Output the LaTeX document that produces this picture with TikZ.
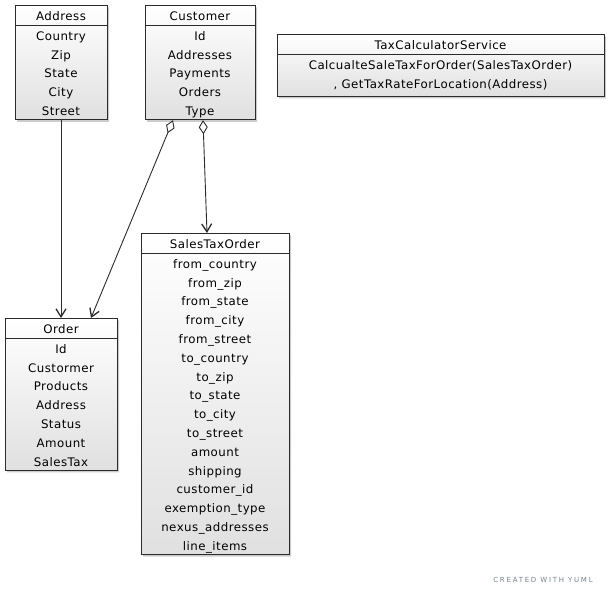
\documentclass[tikz,border=0pt]{standalone}
\usepackage{fontspec}
\setmainfont{DejaVu Sans}[LetterSpace=4]
\newfontfamily\stampfont{DejaVu Sans}[LetterSpace=25]
\usetikzlibrary{arrows.meta,positioning,shapes.multipart,shadows}
\definecolor{ink}{HTML}{2B2B2B}
\definecolor{shade}{HTML}{E0E0E0}
\definecolor{stamp}{HTML}{74828F}
\newcommand\firstrow{\rule{0pt}{14.8pt}}
\newcommand\lastrow{\rule[-4pt]{0pt}{4pt}}

\begin{document}
\begin{tikzpicture}[
  x=1pt,y=-1pt,
  every node/.style={font=\fontsize{11.8}{18.8}\selectfont},
  class/.style={rectangle split,rectangle split parts=2,draw=ink,line width=0.8pt,
    top color=white,bottom color=shade,inner xsep=4pt,inner ysep=0pt,
    align=center,anchor=north,
    drop shadow={shadow xshift=2pt,shadow yshift=-2pt,fill=black!40}},
  barb/.style={-{Straight Barb[length=8pt,width=10pt,line width=1.3pt]}},
  assoc/.style={ink,line width=0.9pt,barb},
  aggr/.style={ink,line width=0.9pt,
    {Diamond[open,length=14pt,width=9pt,line width=0.9pt]}-{Straight Barb[length=8pt,width=10pt,line width=1.3pt]}}
]
\useasboundingbox (0,0) rectangle (613,595);

% classes
\node[class,minimum width=92pt] (addr) at (61,5)
  {\firstrow Address\lastrow\nodepart{second}\firstrow Country\\Zip\\State\\City\\Street\lastrow};
\node[class,minimum width=110pt] (cust) at (200,5)
  {\firstrow Customer\lastrow\nodepart{second}\firstrow Id\\Addresses\\Payments\\Orders\\Type\lastrow};
\node[class,minimum width=327pt] (calc) at (440.5,34)
  {\firstrow TaxCalculatorService\lastrow\nodepart{second}\firstrow CalcualteSaleTaxForOrder(SalesTaxOrder)\\, GetTaxRateForLocation(Address)\rule[-8pt]{0pt}{8pt}};
\node[class,minimum width=148pt] (sto) at (215,233)
  {\firstrow SalesTaxOrder\lastrow\nodepart{second}\firstrow from\_country\\from\_zip\\from\_state\\from\_city\\from\_street\\
   to\_country\\to\_zip\\to\_state\\to\_city\\to\_street\\amount\\shipping\\customer\_id\\
   exemption\_type\\nexus\_addresses\\line\_items\lastrow};
\node[class,minimum width=112pt] (order) at (61,318)
  {\firstrow Order\lastrow\nodepart{second}\firstrow Id\\Custormer\\Products\\Address\\Status\\Amount\\SalesTax\lastrow};

% links
\draw[assoc] (addr.south) -- (order.north);
\draw[aggr] ([xshift=-27pt]cust.south) -- ([xshift=30pt]order.north);
\draw[aggr] ([xshift=3pt]cust.south) -- ([xshift=-8pt]sto.north);

\node[font=\stampfont\fontsize{7}{8}\selectfont,text=stamp] (yuml) at (543,580) {CREATED WITH YUML};
\end{tikzpicture}
\end{document}
